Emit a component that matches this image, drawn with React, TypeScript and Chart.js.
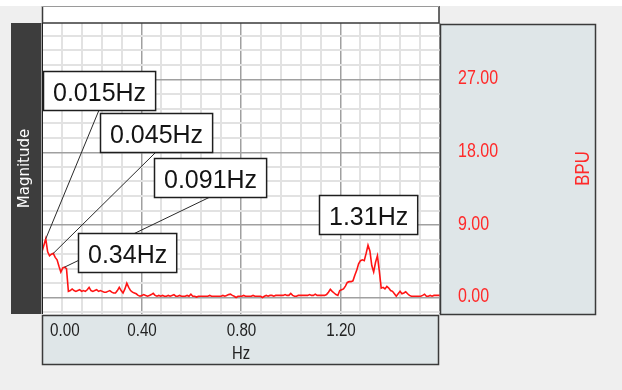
import React, { useEffect, useRef } from 'react';
import { Chart, registerables } from 'chart.js';

Chart.register(...registerables);

// Spectrum bin width (Hz)
const FREQ_STEP = 1 / 132;

// Magnitude per frequency bin (bin i is at i * FREQ_STEP Hz)
const magnitude = [
  5.7, 6.5, 7.3, 5.7, 5.2, 5.4, 5.5, 5.0, 4.7, 3.9,
  3.2, 3.7, 3.8, 3.6, 0.8, 0.9, 1.1, 0.9, 0.8, 0.9,
  1.0, 0.8, 0.9, 0.8, 1.0, 1.3, 0.9, 0.8, 0.9, 1.0,
  0.8, 0.9, 0.8, 0.7, 0.7, 0.8, 0.9, 0.7, 0.6, 0.6,
  0.9, 1.3, 0.9, 0.6, 1.1, 1.8, 1.3, 0.9, 0.7, 0.6,
  0.5, 0.3, 0.2, 0.3, 0.4, 0.3, 0.2, 0.3, 0.4, 0.55,
  0.3, 0.2, 0.3, 0.2, 0.3, 0.2, 0.2, 0.3, 0.2, 0.3,
  0.4, 0.2, 0.2, 0.3, 0.2, 0.2, 0.2, 0.3, 0.2, 0.45,
  0.2, 0.2, 0.1, 0.2, 0.2, 0.2, 0.2, 0.2, 0.2, 0.3,
  0.2, 0.2, 0.2, 0.2, 0.2, 0.2, 0.3, 0.2, 0.3, 0.4,
  0.45, 0.3, 0.2, 0.05, 0.2, 0.2, 0.2, 0.3, 0.2, 0.2,
  0.2, 0.2, 0.3, 0.2, 0.2, 0.2, 0.2, 0.05, 0.2, 0.3,
  0.2, 0.3, 0.3, 0.2, 0.3, 0.3, 0.3, 0.3, 0.3, 0.4,
  0.3, 0.3, 0.55, 0.3, 0.2, 0.2, 0.3, 0.3, 0.3, 0.3,
  0.3, 0.3, 0.4, 0.3, 0.3, 0.45, 0.3, 0.3, 0.3, 0.3,
  0.3, 0.4, 0.7, 1.05, 0.8, 0.6, 0.4, 0.3, 0.9, 1.0,
  1.1, 1.45, 1.9, 2.0, 2.0, 2.1, 2.8, 3.4, 4.2, 4.6,
  4.7, 4.6, 5.5, 6.5, 5.8, 4.0, 3.2, 4.4, 5.2, 3.3,
  1.2, 1.3, 1.1, 1.4, 1.2, 0.9, 0.8, 0.5, 0.2, 0.5,
  0.8, 0.5, 0.6, 0.75, 0.5, 0.3, 0.2, 0.2, 0.2, 0.2,
  0.2, 0.2, 0.3, 0.45, 0.2, 0.2, 0.3, 0.2, 0.3, 0.3,
  0.3, 0.3,
];

// Peak call-outs: label text and the spectrum bin each one marks
const peakLabels = ['0.015Hz', '0.045Hz', '0.091Hz', '0.34Hz', '1.31Hz'];
const peakBins = [2, 6, 12, 45, 173];

// Axis tick labels
const xTickValues = [0, 0.4, 0.8, 1.2];
const xTickLabels = ['0.00', '0.40', '0.80', '1.20'];
const yTickValues = [0, 9, 18, 27];
const yTickLabels = ['0.00', '9.00', '18.00', '27.00'];

const X_MIN = 0;
const X_MAX = 1.6;
const X_MINOR = 0.08;
const Y_MIN = -2;
const Y_MAX = 34;
const Y_MINOR = 1.8;

const xAxisTitle = 'Hz';
const yAxisTitle = 'BPU';
const leftTitle = 'Magnitude';

// Layout of the call-out boxes (pixels), and whether a leader line is drawn
const calloutLayout = [
  { left: 43, top: 71, leader: true },
  { left: 100, top: 113, leader: true },
  { left: 154, top: 158, leader: true },
  { left: 78, top: 233, leader: false },
  { left: 319, top: 195, leader: false },
];

const SANS = '"Liberation Sans", Arial, sans-serif';
const CONDENSE = 0.8;
const PANEL = '#dfe6e8';
const BORDER = '#3a3a3a';

const near = (a: number, b: number) => Math.abs(a - b) < 1e-6;
const isMultiple = (v: number, step: number) => near(v / step, Math.round(v / step));

function condensedText(ctx: CanvasRenderingContext2D, text: string, x: number, y: number, align: CanvasTextAlign, rotate = 0) {
  ctx.save();
  ctx.translate(x, y);
  if (rotate) ctx.rotate(rotate);
  ctx.scale(CONDENSE, 1);
  ctx.textAlign = align;
  ctx.textBaseline = 'alphabetic';
  ctx.fillText(text, 0, 0);
  ctx.restore();
}

const decorPlugin = {
  id: 'decor',
  beforeDraw(chart: any) {
    const { ctx, chartArea: a, width, height } = chart;
    const xs = chart.scales.x;
    const ys = chart.scales.y;
    ctx.save();
    ctx.fillStyle = '#ffffff';
    ctx.fillRect(0, 0, width, height);
    ctx.fillStyle = '#efefef';
    ctx.fillRect(0, 6, width, height - 6);
    ctx.fillStyle = '#ffffff';
    ctx.fillRect(a.left, a.top, a.right - a.left, a.bottom - a.top);
    ctx.fillStyle = PANEL;
    ctx.fillRect(ys.left, ys.top + 1, ys.right - ys.left, ys.bottom - ys.top);
    ctx.fillRect(xs.left, xs.top + 1, xs.right - xs.left - 1, xs.bottom - xs.top - 1);
    ctx.fillStyle = '#3d3d3d';
    ctx.fillRect(11, a.top, a.left - 11, a.bottom - a.top);
    ctx.fillStyle = '#ffffff';
    ctx.fillRect(a.left, 6, a.right - a.left - 1, a.top - 6);
    ctx.restore();
  },
  afterDraw(chart: any) {
    const { ctx, chartArea: a } = chart;
    const xs = chart.scales.x;
    const ys = chart.scales.y;
    ctx.save();
    // panel borders
    ctx.strokeStyle = BORDER;
    ctx.lineWidth = 1.5;
    ctx.strokeRect(ys.left + 0.5, ys.top + 1.5, ys.right - ys.left - 1, ys.bottom - ys.top - 1);
    ctx.strokeRect(xs.left + 0.5, xs.top + 1.5, xs.right - xs.left - 2, xs.bottom - xs.top - 2);
    ctx.beginPath();
    ctx.moveTo(a.left + 0.5, 6);
    ctx.lineTo(a.left + 0.5, a.top);
    ctx.lineTo(a.right - 1, a.top);
    ctx.lineTo(a.right - 1, 6);
    ctx.stroke();
    ctx.strokeStyle = '#9a9a9a';
    ctx.lineWidth = 1;
    ctx.beginPath();
    ctx.moveTo(a.left, 6.5);
    ctx.lineTo(a.right - 1, 6.5);
    ctx.stroke();
    ctx.strokeStyle = '#202020';
    ctx.beginPath();
    ctx.moveTo(a.left + 0.5, a.top);
    ctx.lineTo(a.left + 0.5, a.bottom);
    ctx.stroke();

    // x tick labels (condensed face), positioned by the x scale
    ctx.fillStyle = '#222222';
    ctx.font = '19px ' + SANS;
    xTickValues.forEach((v, i) => {
      const px = xs.getPixelForValue(v);
      if (i === 0) condensedText(ctx, xTickLabels[i], Math.max(px, a.left + 8), xs.top + 22, 'left');
      else condensedText(ctx, xTickLabels[i], px + 0.5, xs.top + 22, 'center');
    });
    // x title
    ctx.font = '18.5px ' + SANS;
    condensedText(ctx, xAxisTitle, (a.left + a.right) / 2, xs.bottom - 6.5, 'center');

    // y tick labels, positioned by the y scale
    ctx.fillStyle = '#ff2a2a';
    ctx.font = '20px ' + SANS;
    yTickValues.forEach((v, i) => {
      const py = ys.getPixelForValue(v);
      condensedText(ctx, yTickLabels[i], ys.left + 18, py + 4.5, 'left');
    });
    // y title (reads bottom to top)
    ctx.font = '21px ' + SANS;
    condensedText(ctx, yAxisTitle, 589, (a.top + a.bottom) / 2, 'center', -Math.PI / 2);

    // left title (Magnitude)
    ctx.fillStyle = '#ffffff';
    ctx.font = '15px "DejaVu Sans", sans-serif';
    ctx.textAlign = 'center';
    ctx.textBaseline = 'alphabetic';
    ctx.save();
    ctx.translate(29, (a.top + a.bottom) / 2);
    ctx.rotate(-Math.PI / 2);
    ctx.fillText(leftTitle, 0, 0);
    ctx.restore();

    // call-outs: leader lines first, boxes on top
    ctx.font = '25px ' + SANS;
    const boxes = peakLabels.map((text, i) => {
      const w = ctx.measureText(text).width + 19;
      const L = calloutLayout[i];
      return { text, x: L.left, y: L.top, w, h: 39, leader: L.leader, bin: peakBins[i] };
    });
    ctx.strokeStyle = '#2a2a2a';
    ctx.lineWidth = 1;
    boxes.forEach((b) => {
      if (!b.leader) return;
      const px = xs.getPixelForValue(b.bin * FREQ_STEP);
      const py = ys.getPixelForValue(magnitude[b.bin]);
      ctx.beginPath();
      ctx.moveTo(b.x + b.w / 2, b.y + b.h);
      ctx.lineTo(px, py);
      ctx.stroke();
    });
    boxes.forEach((b) => {
      ctx.fillStyle = '#ffffff';
      ctx.fillRect(b.x, b.y, b.w, b.h);
      ctx.strokeStyle = '#1e1e1e';
      ctx.lineWidth = 1.5;
      ctx.strokeRect(b.x + 0.5, b.y + 0.5, b.w, b.h);
      ctx.fillStyle = '#141414';
      ctx.textAlign = 'center';
      ctx.textBaseline = 'alphabetic';
      ctx.fillText(b.text, b.x + b.w / 2 + 0.5, b.y + 30);
    });
    ctx.restore();
  },
};

export default function App() {
  const canvasRef = useRef<HTMLCanvasElement | null>(null);

  useEffect(() => {
    const canvas = canvasRef.current;
    if (!canvas) return;

    const points = magnitude.map((v, i) => ({ x: i * FREQ_STEP, y: v }));

    const xTicks: number[] = [];
    for (let k = 0; k <= Math.round((X_MAX - X_MIN) / X_MINOR); k++) xTicks.push(X_MIN + k * X_MINOR);
    const yTicks: number[] = [];
    for (let k = Math.ceil(Y_MIN / Y_MINOR); k * Y_MINOR <= Y_MAX; k++) yTicks.push(k * Y_MINOR);

    const chart = new Chart(canvas, {
      type: 'line',
      data: {
        datasets: [
          {
            data: points,
            borderColor: '#ff1414',
            borderWidth: 1.6,
            pointRadius: 0,
            tension: 0,
            fill: false,
          },
        ],
      },
      plugins: [decorPlugin],
      options: {
        animation: false,
        responsive: false,
        devicePixelRatio: 1,
        parsing: false as any,
        normalized: true,
        layout: { padding: { left: 42, top: 23, right: 26, bottom: 25 } },
        plugins: {
          legend: { display: false },
          tooltip: { enabled: false },
          title: { display: false },
        },
        scales: {
          x: {
            type: 'linear',
            position: 'bottom',
            min: X_MIN,
            max: X_MAX,
            afterBuildTicks: (scale: any) => {
              scale.ticks = xTicks.map((value) => ({ value }));
            },
            afterFit: (scale: any) => {
              scale.height = 51;
            },
            grid: {
              drawTicks: false,
              color: (c: any) => (isMultiple(c.tick.value, 0.4) ? '#a0a0a0' : '#e2e2e2'),
              lineWidth: (c: any) => (isMultiple(c.tick.value, 0.4) ? 1.5 : 2),
            },
            border: { display: false },
            ticks: { display: false, autoSkip: false },
            title: { display: false },
          },
          y: {
            type: 'linear',
            position: 'right',
            min: Y_MIN,
            max: Y_MAX,
            afterBuildTicks: (scale: any) => {
              scale.ticks = yTicks.map((value) => ({ value }));
            },
            afterFit: (scale: any) => {
              scale.width = 156;
            },
            grid: {
              drawTicks: false,
              color: (c: any) => (isMultiple(c.tick.value, 9) ? '#a0a0a0' : '#e2e2e2'),
              lineWidth: (c: any) => (isMultiple(c.tick.value, 9) ? 1.5 : 2),
            },
            border: { display: false },
            ticks: { display: false, autoSkip: false },
          },
        },
      } as any,
    });

    return () => chart.destroy();
  }, []);

  return (
    <div style={{ position: 'fixed', left: 0, top: 0, width: 622, height: 390 }}>
      <canvas ref={canvasRef} width={622} height={390} style={{ display: 'block', width: 622, height: 390 }} />
    </div>
  );
}
